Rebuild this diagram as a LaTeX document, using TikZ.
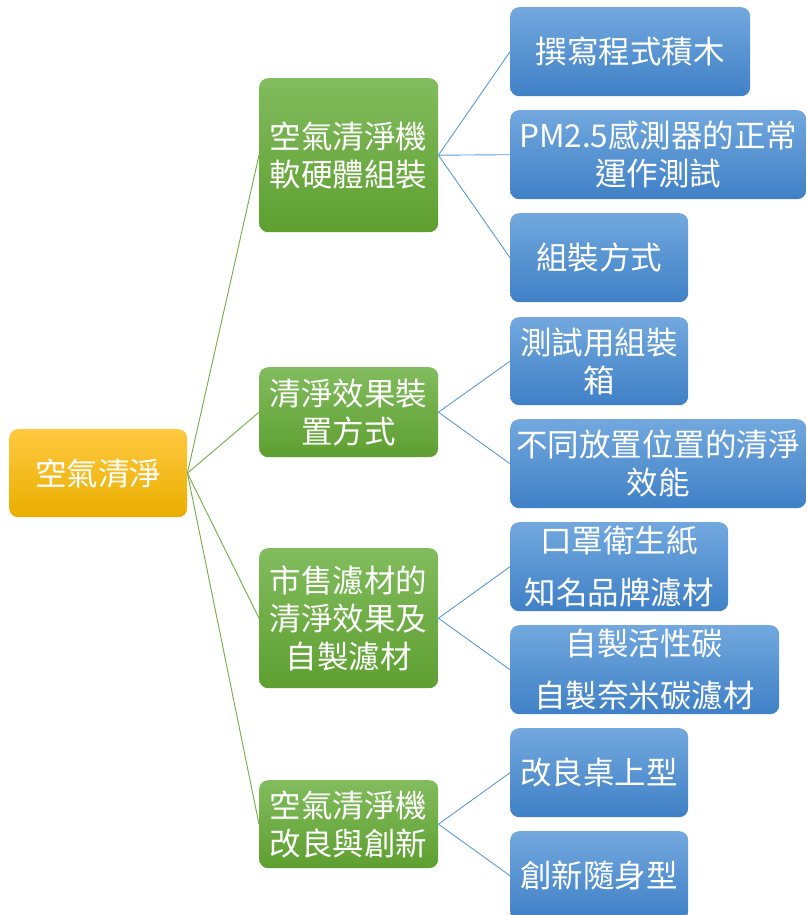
\documentclass[tikz,border=0pt]{standalone}
\usepackage{fontspec}
\setmainfont{Noto Sans CJK TC}
\definecolor{gtop}{HTML}{82BC5E}
\definecolor{gbot}{HTML}{5E9F30}
\definecolor{btop}{HTML}{72A8DE}
\definecolor{bbot}{HTML}{3F80C6}
\definecolor{ytop}{HTML}{FFC940}
\definecolor{ybot}{HTML}{E9AE00}
\definecolor{gline}{HTML}{70AD47}
\definecolor{bline}{HTML}{5B9BD5}
\begin{document}
\begin{tikzpicture}[x=1pt,y=-1pt,
  box/.style={rounded corners=9pt, anchor=north west, inner sep=0pt, align=center, text=white,
    font=\fontsize{31.5}{38}\selectfont},
  rootbox/.style={box, top color=ytop, bottom color=ybot},
  greenbox/.style={box, top color=gtop, bottom color=gbot, minimum width=179pt},
  bluebox/.style={box, top color=btop, bottom color=bbot},
  gconn/.style={draw=gline, line width=0.9pt},
  bconn/.style={draw=bline, line width=0.9pt}]
\useasboundingbox (0,0) rectangle (806,915);
\node[rootbox, minimum width=178pt, minimum height=88pt] (root) at (9,429) {空氣清淨};
\node[greenbox, minimum height=154pt] (g1) at (259,78) {空氣清淨機\\軟硬體組裝};
\node[greenbox, minimum height=90pt] (g2) at (259,367) {清淨效果裝\\置方式};
\node[greenbox, minimum height=140pt] (g3) at (259,548) {市售濾材的\\清淨效果及\\自製濾材};
\node[greenbox, minimum height=88pt] (g4) at (259,780) {空氣清淨機\\改良與創新};
\node[bluebox, minimum width=240pt, minimum height=89pt] (b1) at (510,7) {撰寫程式積木};
\node[bluebox, minimum width=296pt, minimum height=89pt] (b2) at (510,110) {PM2.5感測器的正常\\運作測試};
\node[bluebox, minimum width=178pt, minimum height=89pt] (b3) at (510,213) {組裝方式};
\node[bluebox, minimum width=178pt, minimum height=88pt] (b4) at (510,317) {測試用組裝\\箱};
\node[bluebox, minimum width=296pt, minimum height=89pt] (b5) at (510,419) {不同放置位置的清淨\\效能};
\node[bluebox, minimum width=218pt, minimum height=89pt] (b6) at (510,522) {口罩衛生紙\\[14pt]知名品牌濾材};
\node[bluebox, minimum width=269pt, minimum height=89pt] (b7) at (510,625) {自製活性碳\\[14pt]自製奈米碳濾材};
\node[bluebox, minimum width=178pt, minimum height=89pt] (b8) at (510,728) {改良桌上型};
\node[bluebox, minimum width=178pt, minimum height=89pt] (b9) at (510,831) {創新隨身型};
\foreach \g in {g1,g2,g3,g4} \draw[gconn] (root.east) -- (\g.west);
\foreach \b in {b1,b2,b3} \draw[bconn] (g1.east) -- (\b.west);
\foreach \b in {b4,b5} \draw[bconn] (g2.east) -- (\b.west);
\foreach \b in {b6,b7} \draw[bconn] (g3.east) -- (\b.west);
\foreach \b in {b8,b9} \draw[bconn] (g4.east) -- (\b.west);
\end{tikzpicture}
\end{document}
